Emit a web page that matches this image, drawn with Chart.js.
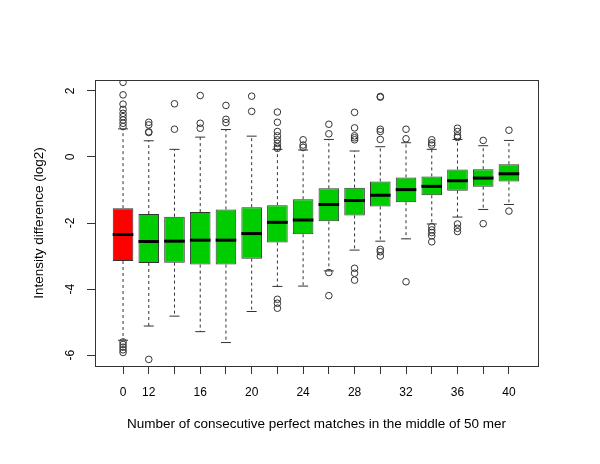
<!DOCTYPE html>
<html>
<head>
<meta charset="utf-8">
<script src="https://cdn.jsdelivr.net/npm/chart.js@4/dist/chart.umd.min.js"></script>
<style>
  body { margin: 0; background: #fff; }
  #wrap { width: 600px; height: 464px; }
</style>
</head>
<body>
<div id="wrap"><canvas id="box-chart"></canvas></div>
<script>
/* ---------------------------------------------------
    data
----------------------------------------------------- */
const categories = ["0", "12", "14", "16", "18", "20", "22", "24", "26", "28", "30", "32", "34", "36", "38", "40"];
const shownTicks = ["0", "12", "16", "20", "24", "28", "32", "36", "40"];
const yTicks = [-6, -4, -2, 0, 2];

const q1 = [-3.15, -3.21, -3.20, -3.26, -3.26, -3.08, -2.59, -2.34, -1.95, -1.77, -1.50, -1.37, -1.16, -1.02, -0.90, -0.74];
const medians = [-2.35, -2.56, -2.55, -2.52, -2.52, -2.32, -1.98, -1.91, -1.44, -1.32, -1.16, -0.99, -0.89, -0.72, -0.64, -0.51];
const q3 = [-1.55, -1.73, -1.81, -1.67, -1.59, -1.52, -1.46, -1.28, -0.95, -0.93, -0.74, -0.62, -0.59, -0.38, -0.37, -0.22];
const whiskerLow = [-5.55, -5.12, -4.82, -5.29, -5.62, -4.68, -3.92, -3.91, -3.45, -2.82, -2.55, -2.48, -2.03, -1.82, -1.59, -1.44];
const whiskerHigh = [0.85, 0.49, 0.23, 0.60, 0.83, 0.63, 0.23, 0.21, 0.53, 0.18, 0.31, 0.43, 0.23, 0.53, 0.34, 0.50];
const outliers = [
  [2.26, 1.88, 1.60, 1.44, 1.32, 1.22, 1.12, 1.02, 0.92, -5.60, -5.68, -5.76, -5.84, -5.92],
  [1.05, 0.97, 0.76, 0.74, -6.13],
  [1.61, 0.84],
  [1.86, 1.02, 0.87],
  [1.56, 1.14, 1.04],
  [1.84, 1.38],
  [1.36, 1.05, 0.77, 0.64, 0.52, 0.41, 0.31, 0.26, -4.31, -4.43, -4.58],
  [0.52, 0.36, 0.29],
  [0.99, 0.70, -3.50, -4.20],
  [1.35, 0.88, 0.64, 0.58, 0.52, -3.37, -3.52, -3.73],
  [1.83, 1.81, 0.84, 0.77, 0.53, -2.80, -2.87, -3.00],
  [0.84, 0.55, -3.78],
  [0.52, 0.43, 0.36, -2.11, -2.21, -2.29, -2.39, -2.57],
  [0.87, 0.77, 0.64, 0.59, -2.03, -2.16, -2.26],
  [0.50, -2.02],
  [0.81, -1.64],
];

/* ---------------------------------------------------
    build datasets
----------------------------------------------------- */
const pos = categories.map((c, i) => i + 1);
const boxColors = categories.map((c, i) => (i === 0 ? "#ff0000" : "#00cd00"));

const boxData = pos.map((x, i) => ({ x: x, y: [q1[i], q3[i]] }));
const medianData = pos.map((x, i) => ({ x: x, y: medians[i] }));

let whiskerData = [];
let capData = [];
pos.forEach((x, i) => {
  whiskerData.push({ x: x, y: q3[i] }, { x: x, y: whiskerHigh[i] }, { x: x, y: null });
  whiskerData.push({ x: x, y: q1[i] }, { x: x, y: whiskerLow[i] }, { x: x, y: null });
  capData.push({ x: x, y: whiskerHigh[i] }, { x: x, y: whiskerLow[i] });
});

let outlierData = [];
pos.forEach((x, i) => {
  outliers[i].forEach((v) => outlierData.push({ x: x, y: v }));
});

const ink = "#333";
const tickFont = { family: "'Liberation Sans', Arial, sans-serif", size: 12 };
const titleFont = { family: "'Liberation Sans', Arial, sans-serif", size: 13.5 };

// R style box around the plot region
const frame = {
  id: "frame",
  afterDraw(chart) {
    const a = chart.chartArea;
    const c = chart.ctx;
    c.save();
    c.strokeStyle = ink;
    c.lineWidth = 1;
    c.strokeRect(a.left + 0.5, a.top + 0.5, a.right - a.left, a.bottom - a.top);
    c.restore();
  },
};

new Chart(document.getElementById("box-chart"), {
  data: {
    datasets: [
      {
        type: "bar",
        data: boxData,
        backgroundColor: boxColors,
        borderColor: ink,
        borderWidth: 1,
        borderSkipped: false,
        barPercentage: 0.8,
        categoryPercentage: 1,
        order: 5,
      },
      {
        type: "scatter",
        data: whiskerData,
        showLine: true,
        spanGaps: false,
        borderColor: ink,
        borderWidth: 1,
        borderDash: [3, 3],
        pointRadius: 0,
        order: 4,
      },
      {
        type: "scatter",
        data: capData,
        pointStyle: "line",
        pointRadius: 5,
        borderColor: ink,
        borderWidth: 1,
        order: 3,
      },
      {
        type: "scatter",
        data: medianData,
        pointStyle: "line",
        pointRadius: 10.3,
        borderColor: "#000",
        borderWidth: 3,
        order: 2,
      },
      {
        type: "scatter",
        data: outlierData,
        pointStyle: "circle",
        pointRadius: 3.3,
        backgroundColor: "rgba(0,0,0,0)",
        borderColor: ink,
        borderWidth: 1,
        order: 1,
      },
    ],
  },
  options: {
    responsive: true,
    maintainAspectRatio: false,
    animation: false,
    layout: { padding: { top: 80, right: 62, left: 0, bottom: 0 } },
    plugins: {
      legend: { display: false },
      tooltip: { enabled: false },
    },
    scales: {
      x: {
        type: "linear",
        offset: false,
        min: -0.09,
        max: 17.13,
        afterBuildTicks: (scale) => {
          scale.ticks = pos.map((v) => ({ value: v }));
        },
        afterFit: (scale) => {
          scale.height = 98;
        },
        grid: { offset: false, drawOnChartArea: false, drawTicks: true, tickLength: 8, color: ink },
        border: { display: true, color: ink },
        ticks: {
          padding: 11,
          color: "#000",
          font: tickFont,
          maxRotation: 0,
          autoSkip: false,
          callback: (value) => {
            const label = categories[value - 1];
            return shownTicks.includes(label) ? label : "";
          },
        },
        title: {
          display: true,
          text: "Number of consecutive perfect matches in the middle of 50 mer",
          color: "#000",
          font: titleFont,
          padding: { top: 0, bottom: 32 },
        },
      },
      y: {
        type: "linear",
        min: -6.33,
        max: 2.33,
        afterBuildTicks: (scale) => {
          scale.ticks = yTicks.map((v) => ({ value: v }));
        },
        afterFit: (scale) => {
          scale.width = 95;
        },
        grid: { drawOnChartArea: false, drawTicks: true, tickLength: 8, color: ink },
        border: { display: true, color: ink },
        ticks: {
          padding: 11,
          color: "#000",
          font: tickFont,
          minRotation: 90,
          maxRotation: 90,
          crossAlign: "center",
        },
        title: {
          display: true,
          text: "Intensity difference (log2)",
          color: "#000",
          font: titleFont,
          padding: { top: 31, bottom: 0 },
        },
      },
    },
  },
  plugins: [frame],
});
</script>
</body>
</html>
